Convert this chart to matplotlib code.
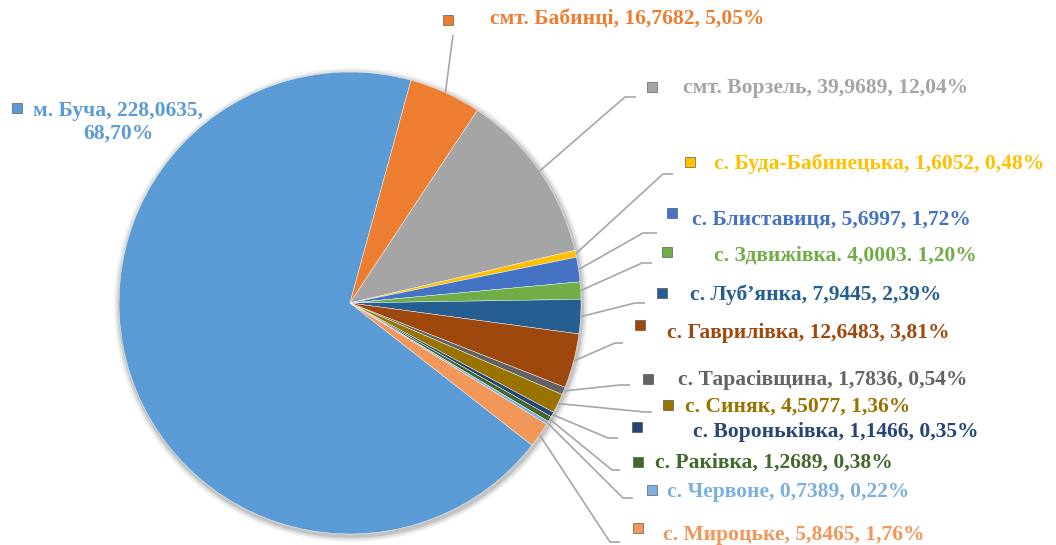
import matplotlib.pyplot as plt
from matplotlib.patches import Circle
import numpy as np

names = ["м. Буча", "смт. Бабинці", "смт. Ворзель", "с. Буда-Бабинецька",
         "с. Блиставиця", "с. Здвижівка", "с. Луб’янка", "с. Гаврилівка",
         "с. Тарасівщина", "с. Синяк", "с. Вороньківка", "с. Раківка",
         "с. Червоне", "с. Мироцьке"]
values = [228.0635, 16.7682, 39.9689, 1.6052, 5.6997, 4.0003, 7.9445, 12.6483,
          1.7836, 4.5077, 1.1466, 1.2689, 0.7389, 5.8465]
value_text = ["228,0635", "16,7682", "39,9689", "1,6052", "5,6997", "4,0003",
              "7,9445", "12,6483", "1,7836", "4,5077", "1,1466", "1,2689",
              "0,7389", "5,8465"]
pct_text = ["68,70%", "5,05%", "12,04%", "0,48%", "1,72%", "1,20%", "2,39%",
            "3,81%", "0,54%", "1,36%", "0,35%", "0,38%", "0,22%", "1,76%"]
# separators as printed on the chart (one label uses dots)
seps = [", "] * 14
seps[5] = ". "
colors = ["#5B9BD5", "#ED7D31", "#A5A5A5", "#FFC000", "#4472C4", "#70AD47",
          "#255E91", "#9E480E", "#636363", "#997300", "#264478", "#43682B",
          "#7CAFDD", "#F1975A"]

H = 545
cx, cy, R = 350, 303, 231

# label layout in pixel coords: marker x, marker y, text x, text y, elbow x, elbow y, end x
layout = [
    None,
    (448, 20, 490, 20, 453, 35, 453),
    (652, 87, 683, 88, 625, 97, 636),
    (690, 162, 714, 164, 663, 174, 673),
    (672, 213, 692, 220, 643, 233, 657),
    (667, 252, 714, 255, 642, 263, 652),
    (662, 293, 690, 295, 635, 303, 645),
    (640, 325, 667, 333, 615, 343, 623),
    (648, 379, 678, 380, 620, 385, 630),
    (668, 405, 685, 407, 645, 412, 652),
    (637, 427, 693, 432, 608, 438, 618),
    (638, 462, 655, 463, 612, 470, 620),
    (652, 490, 667, 492, 623, 498, 633),
    (638, 528, 663, 535, 610, 542, 620),
]

fig = plt.figure(figsize=(10.56, 5.45), dpi=100)
ax = fig.add_axes([0, 0, 1, 1])

# soft shadow under the pie
for k, a in [(6, 0.05), (4, 0.08), (2, 0.12)]:
    ax.add_patch(Circle((cx + 1, H - cy - 2), R + k, color="black", alpha=a, lw=0))

wedges, _ = ax.pie(values, colors=colors, startangle=-38, counterclock=False,
                   center=(cx, H - cy), radius=R,
                   wedgeprops=dict(edgecolor="white", linewidth=0.3))

font = dict(family="Liberation Serif", weight="bold", size=15.5)

for i, w in enumerate(wedges):
    if layout[i] is None:
        continue
    mx, my, tx, ty, ex, ey, endx = layout[i]
    mid = np.deg2rad((w.theta1 + w.theta2) / 2)
    sx = cx + R * np.cos(mid)
    sy = (H - cy) + R * np.sin(mid)
    ax.plot([sx, ex, endx], [sy, H - ey, H - ey], color="#A6A6A6", lw=1.2,
            solid_capstyle="butt")
    ax.plot(mx, H - my, marker="s", ms=6.5, color=colors[i],
            markeredgecolor="#404040", markeredgewidth=0.4)
    s = seps[i]
    ax.text(tx, H - ty, f"{names[i]}{s}{value_text[i]}{s}{pct_text[i]}",
            color=colors[i], ha="left", va="center", **font)

# Буча label (no leader line)
ax.plot(17, H - 108, marker="s", ms=6.5, color=colors[0],
        markeredgecolor="#404040", markeredgewidth=0.4)
ax.text(118, H - 122, f"{names[0]}, {value_text[0]},\n{pct_text[0]}",
        color=colors[0], ha="center", va="center", multialignment="center",
        linespacing=1.15, **font)

ax.set_xlim(0, 1056)
ax.set_ylim(0, H)
ax.set_aspect("equal")
ax.axis("off")

fig.savefig("out.png", dpi=100)
